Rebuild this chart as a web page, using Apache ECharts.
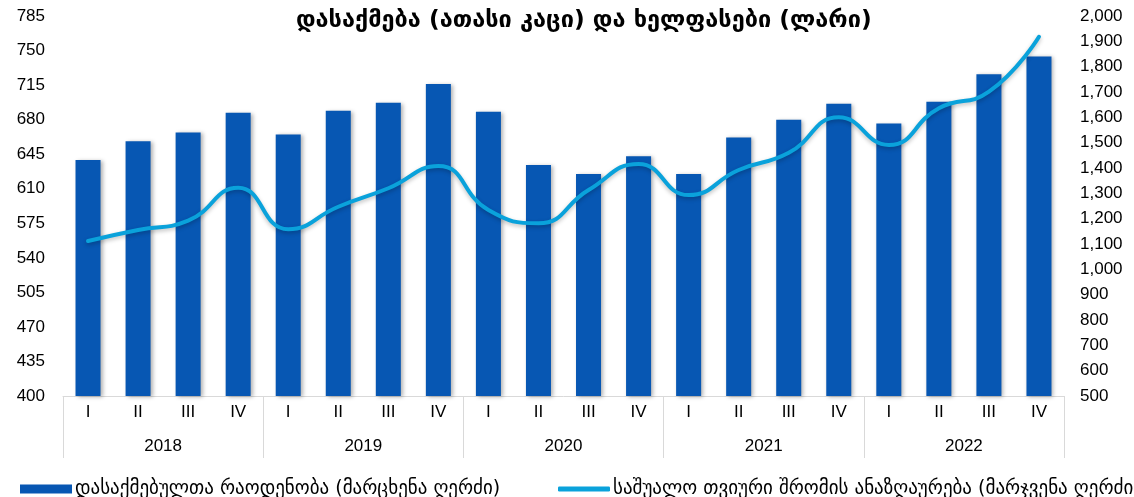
<!DOCTYPE html>
<html>
<head>
<meta charset="utf-8">
<script src="https://cdn.jsdelivr.net/npm/echarts@6/dist/echarts.min.js"></script>
<style>
html,body{margin:0;padding:0;background:#fff;}
#chart{width:1134px;height:497px;}
</style>
</head>
<body>
<div id="chart"></div>
<script>
var titleText = 'დასაქმება (ათასი კაცი) და ხელფასები (ლარი)';
var years = ['2018', '2019', '2020', '2021', '2022'];
var quarters = ['I', 'II', 'III', 'IV'];
var employmentName = 'დასაქმებულთა რაოდენობა (მარცხენა ღერძი)';
var wageName = 'საშუალო თვიური შრომის ანაზღაურება (მარჯვენა ღერძი)';
var employment = [639, 658, 667, 687, 665, 689, 697, 716, 688, 634, 625, 643, 625, 662, 680, 696, 676, 698, 726, 744];
var wages = [1112, 1155, 1192, 1322, 1158, 1247, 1320, 1408, 1234, 1182, 1313, 1416, 1293, 1392, 1460, 1600, 1491, 1636, 1701, 1918];

var categories = [];
years.forEach(function (y) { quarters.forEach(function (q) { categories.push(y + ' ' + q); }); });

var geo = '"DejaVu Sans", sans-serif';
var lat = '"Liberation Sans", Arial, sans-serif';

var chart = echarts.init(document.getElementById('chart'));
chart.setOption({
  animation: false,
  backgroundColor: '#ffffff',
  title: {
    text: titleText,
    left: 291,
    top: 4,
    textStyle: { fontFamily: geo, fontSize: 23.5, fontWeight: 'bold', color: '#000' }
  },
  legend: [
    {
      data: [employmentName],
      left: 15, top: 473,
      icon: 'rect', itemWidth: 52, itemHeight: 9, itemGap: 4,
      textStyle: { fontFamily: geo, fontSize: 19, lineHeight: 22, color: '#000', padding: [0, 0, 0, -2] }
    },
    {
      data: [wageName],
      left: 553, top: 473,
      icon: 'roundRect', itemWidth: 52, itemHeight: 5,
      textStyle: { fontFamily: geo, fontSize: 19, lineHeight: 22, color: '#000', padding: [0, 0, 0, -2] }
    }
  ],
  grid: { left: 63, right: 70, top: 16, bottom: 101, containLabel: false },
  xAxis: [
    {
      type: 'category',
      data: categories,
      position: 'bottom',
      axisLine: { show: true, lineStyle: { color: '#d9d9d9', width: 1 } },
      axisTick: { show: false },
      axisLabel: {
        interval: 0, margin: 8, fontFamily: lat, fontSize: 17, color: '#000',
        formatter: function (v) { return v.split(' ')[1]; }
      }
    },
    {
      type: 'category',
      data: years,
      position: 'bottom',
      axisLine: { show: false },
      axisTick: { show: true, length: 62, interval: 0, lineStyle: { color: '#d9d9d9', width: 1 } },
      axisLabel: { interval: 0, margin: 42, fontFamily: lat, fontSize: 17, color: '#000' },
      splitLine: { show: false }
    }
  ],
  yAxis: [
    {
      type: 'value', min: 400, max: 785, interval: 35,
      axisLine: { show: false }, axisTick: { show: false }, splitLine: { show: false },
      axisLabel: { margin: 18, fontFamily: lat, fontSize: 17, color: '#000' }
    },
    {
      type: 'value', min: 500, max: 2000, interval: 100, position: 'right',
      axisLine: { show: false }, axisTick: { show: false }, splitLine: { show: false },
      axisLabel: {
        margin: 16, fontFamily: lat, fontSize: 17, color: '#000',
        formatter: function (v) { return v >= 1000 ? Math.floor(v / 1000) + ',' + String(v % 1000).padStart(3, '0') : String(v); }
      }
    }
  ],
  series: [
    {
      name: employmentName,
      type: 'bar',
      xAxisIndex: 0, yAxisIndex: 0,
      data: employment,
      barWidth: '50%',
      itemStyle: { color: '#0757b3', shadowColor: 'rgba(0,0,0,0.3)', shadowBlur: 4, shadowOffsetX: 2, shadowOffsetY: 1 }
    },
    {
      name: wageName,
      type: 'line',
      xAxisIndex: 0, yAxisIndex: 1,
      data: wages,
      smooth: 0.5,
      symbol: 'none',
      lineStyle: { color: '#0aa2db', width: 4, cap: 'round', shadowColor: 'rgba(0,0,0,0.25)', shadowBlur: 4, shadowOffsetY: 2 },
      itemStyle: { color: '#0aa2db' },
      z: 3
    }
  ]
});
</script>
</body>
</html>
